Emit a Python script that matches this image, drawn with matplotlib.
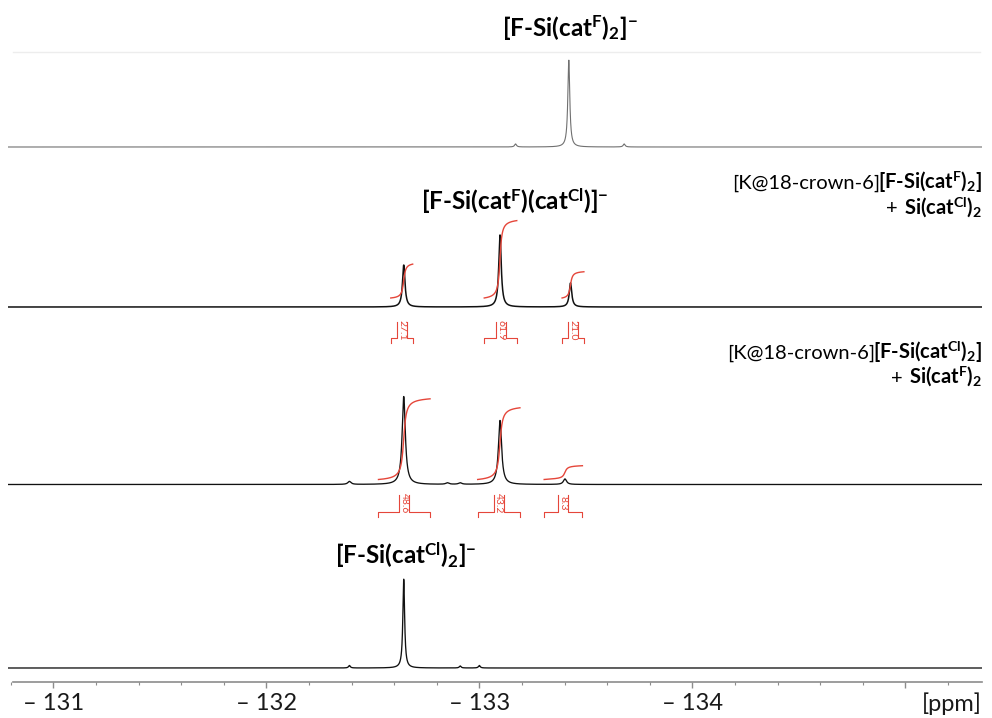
import numpy as np
import matplotlib.pyplot as plt
from matplotlib.ticker import MultipleLocator
from matplotlib.lines import Line2D

# --- data (ppm, peak heights in px) ---
top_ppm = [-133.42, -133.17, -133.68]          # [F-Si(catF)2]-
top_h = [87, 3, 3]
mix_ppm = [-132.645, -133.097, -133.428]       # catF2 + Si(catCl)2
mix_h = [42, 72, 24]
cl_ppm = [-132.645, -133.097, -133.402, -132.39, -132.85, -132.91]   # catCl2 + Si(catF)2
cl_h = [88, 64, 5.5, 3, 1.5, 1.5]
bot_ppm = [-132.645, -132.39, -132.91, -133.0]  # [F-Si(catCl)2]-
bot_h = [89, 2.5, 2, 2.5]

mix_regions = [(-132.584, -132.687), (-133.023, -133.176), (-133.388, -133.491)]
mix_int = [27.1, 61.9, 21.0]
cl_regions = [(-132.526, -132.769), (-132.992, -133.191), (-133.304, -133.484)]
cl_int = [48.6, 43.2, 8.3]

tick_vals = [-131, -132, -133, -134, -135]
tick_labels = ['\u2013 131', '\u2013 132', '\u2013 133', '\u2013 134', '']

plt.rcParams['font.family'] = ['Lato', 'DejaVu Sans']
plt.rcParams['mathtext.fontset'] = 'custom'
plt.rcParams['mathtext.rm'] = 'Lato'
plt.rcParams['mathtext.bf'] = 'Lato:bold'
plt.rcParams['mathtext.it'] = 'Lato:italic'

W, H = 992, 718
fig = plt.figure(figsize=(W / 100, H / 100), dpi=100)

AX_L, AX_R, AX_B, AX_T = 8, 982, 682, 30
XL, XR = -130.787, -135.36
PX = (XL - XR) / (AX_R - AX_L)     # ppm per pixel
ax = fig.add_axes([AX_L / W, 1 - AX_B / H, (AX_R - AX_L) / W, (AX_B - AX_T) / H])
ax.set_xlim(XL, XR)
ax.set_ylim(0, AX_B - AX_T)

x = np.linspace(XL, XR, 9200)
RED = '#e5463a'


def spectrum(ppms, heights, g):
    y = np.zeros_like(x)
    for p, h in zip(ppms, heights):
        y += h * g**2 / ((x - p)**2 + g**2)
    return y


def base(py):  # pixel row from top -> data y
    return AX_B - py


b_top, b_mix, b_cl, b_bot = base(147), base(307), base(484.5), base(668)

ax.plot(x, b_top + spectrum(top_ppm, top_h, 0.0055), color='#707070', lw=0.8)
y_mix = spectrum(mix_ppm, mix_h, 0.007)
ax.plot(x, b_mix + y_mix, color='#111111', lw=1.1)
y_cl = spectrum(cl_ppm, cl_h, 0.009)
ax.plot(x, b_cl + y_cl, color='#111111', lw=0.95)
ax.plot(x, b_bot + spectrum(bot_ppm, bot_h, 0.005), color='#111111', lw=0.95)


def integrals(y, b, regions, values, scale, off, drop, box):
    for (a, c), v in zip(regions, values):
        m = (x <= a) & (x >= c)
        cs = np.cumsum(y[m])
        cs = cs / cs[-1]
        ax.plot(x[m], b + off + cs * v * scale, color=RED, lw=1.0)
        # bracket under the spectrum
        xc = (a + c) / 2
        hw = 5 * PX
        yh = b - drop
        yt = yh + box
        ax.plot([a, a, xc + hw, xc + hw], [yh - 5, yh, yh, yt], color=RED, lw=0.8)
        ax.plot([c, c, xc - hw, xc - hw], [yh - 5, yh, yh, yt], color=RED, lw=0.8)
        ax.text(xc, (yh + yt) / 2, f'{v:.1f}', color=RED, fontsize=7.5,
                rotation=270, ha='center', va='center')


integrals(y_mix, b_mix, mix_regions, mix_int, 1.25, 9, 31, 16)
integrals(y_cl, b_cl, cl_regions, cl_int, 1.66, 5, 27, 17)

# axis styling
for s in ['top', 'left', 'right']:
    ax.spines[s].set_visible(False)
ax.spines['bottom'].set_color('#8c8c8c')
ax.spines['bottom'].set_linewidth(1.2)
ax.spines['bottom'].set_bounds(-130.81, XR)
ax.set_yticks([])
ax.set_xticks(tick_vals)
ax.set_xticklabels(tick_labels)
ax.xaxis.set_minor_locator(MultipleLocator(0.2))
ax.tick_params(axis='x', which='major', length=4, width=1, color='#8c8c8c',
               labelsize=17, pad=4, labelcolor='#1a1a1a')
ax.tick_params(axis='x', which='minor', length=2.5, width=0.8, color='#8c8c8c')
ax.patch.set_visible(False)

fig.text(982 / W, 1 - 692 / H, '[ppm]', ha='right', va='top', fontsize=17, color='#1a1a1a')

# faint panel edge at the top
fig.add_artist(Line2D([13 / W, 980 / W], [1 - 52 / H, 1 - 52 / H], color='#ededed', lw=1))

FS_BIG = 17.5
FS_SIDE = 14.5


def ftxt(px, py, s, fs, **kw):
    return fig.text(px / W, 1 - py / H, s, fontsize=fs, **kw)


lab_f2 = r'[F-Si(cat$^{\mathbf{F}}$)$_{\mathbf{2}}$]$^{\mathbf{-}}$'
lab_mix = r'[F-Si(cat$^{\mathbf{F}}$)(cat$^{\mathbf{Cl}}$)]$^{\mathbf{-}}$'
lab_cl2 = r'[F-Si(cat$^{\mathbf{Cl}}$)$_{\mathbf{2}}$]$^{\mathbf{-}}$'

ftxt(570, 27, lab_f2, FS_BIG, ha='center', va='center', fontweight='bold')
ftxt(515, 201, lab_mix, FS_BIG, ha='center', va='center', fontweight='bold')
ftxt(406, 555, lab_cl2, FS_BIG, ha='center', va='center', fontweight='bold')


def two_part(py, regular, bold, nudge):
    tb = ftxt(982, py, bold, FS_SIDE, ha='right', va='baseline', fontweight='bold')
    bb = tb.get_window_extent(renderer=fig.canvas.get_renderer())
    fig.text((bb.x0 + nudge) / W, 1 - py / H, regular, fontsize=FS_SIDE,
             ha='right', va='baseline')


two_part(189, '[K@18-crown-6]', r'[F-Si(cat$^{\mathbf{F}}$)$_{\mathbf{2}}$]', 2)
two_part(214, '+ ', r'Si(cat$^{\mathbf{Cl}}$)$_{\mathbf{2}}$', -1)
two_part(359, '[K@18-crown-6]', r'[F-Si(cat$^{\mathbf{Cl}}$)$_{\mathbf{2}}$]', 2)
two_part(384, '+ ', r'Si(cat$^{\mathbf{F}}$)$_{\mathbf{2}}$', -1)

fig.savefig('out.png', dpi=100)
